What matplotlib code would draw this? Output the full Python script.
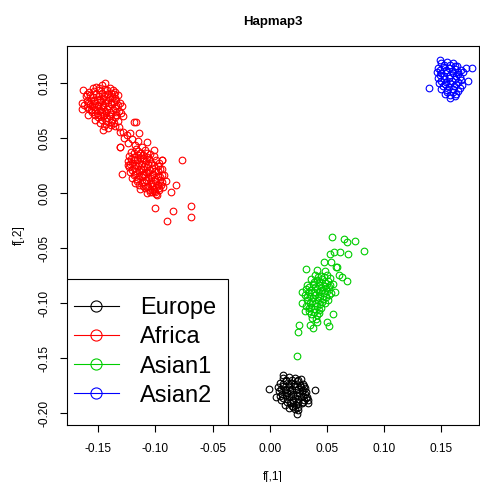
import numpy as np
import matplotlib
matplotlib.use("Agg")
import matplotlib.pyplot as plt
from matplotlib.lines import Line2D
from matplotlib.patches import Rectangle

plt.rcParams['font.family'] = ['Liberation Sans', 'DejaVu Sans']
plt.rcParams['axes.unicode_minus'] = False

# values (f[,1], f[,2])
europe = [
    (0.012, -0.168), (0.017, -0.167), (0.022, -0.168), (0.027, -0.169),
    (0.009, -0.172), (0.014, -0.171), (0.019, -0.172), (0.024, -0.171), (0.029, -0.173),
    (0.007, -0.176), (0.012, -0.175), (0.017, -0.176), (0.022, -0.175), (0.027, -0.176), (0.031, -0.177),
    (0.008, -0.180), (0.013, -0.179), (0.018, -0.180), (0.023, -0.179), (0.028, -0.180), (0.032, -0.181),
    (0.009, -0.184), (0.014, -0.183), (0.019, -0.184), (0.024, -0.183), (0.029, -0.184), (0.033, -0.185),
    (0.010, -0.188), (0.015, -0.187), (0.020, -0.188), (0.025, -0.187), (0.030, -0.188),
    (0.013, -0.192), (0.018, -0.191), (0.023, -0.192), (0.028, -0.191),
    (0.017, -0.195), (0.022, -0.196),
    (0.0145, -0.1695), (0.0195, -0.1695), (0.0245, -0.1700),
    (0.0115, -0.1735), (0.0165, -0.1735), (0.0215, -0.1730), (0.0265, -0.1740), (0.0300, -0.1750),
    (0.0095, -0.1780), (0.0145, -0.1775), (0.0195, -0.1780), (0.0245, -0.1775), (0.0295, -0.1785),
    (0.0105, -0.1820), (0.0155, -0.1815), (0.0205, -0.1820), (0.0255, -0.1815), (0.0305, -0.1825),
    (0.0120, -0.1860), (0.0170, -0.1855), (0.0220, -0.1860), (0.0270, -0.1855), (0.0315, -0.1865),
    (0.0150, -0.1900), (0.0200, -0.1895), (0.0250, -0.1900), (0.0290, -0.1900),
    (0.0195, -0.1935), (0.0245, -0.1940),
    (-0.001, -0.178), (0.0114, -0.165), (0.040, -0.179), (0.0055, -0.185), (0.025, -0.197),
    (0.0338, -0.191), (0.020, -0.194), (0.0236, -0.2006), (0.0338, -0.188),
]

africa = [
    (-0.163, 0.094), (-0.164, 0.082), (-0.164, 0.077), (-0.144, 0.100), (-0.135, 0.092),
    (-0.129, 0.079), (-0.128, 0.070), (-0.146, 0.058), (-0.135, 0.061), (-0.131, 0.056),
    (-0.159, 0.071), (-0.153, 0.067), (-0.119, 0.065),
    (-0.152, 0.097), (-0.147, 0.098), (-0.140, 0.096), (-0.137, 0.094),
    (-0.158, 0.092), (-0.154, 0.093), (-0.149, 0.094), (-0.144, 0.095), (-0.139, 0.091), (-0.133, 0.089),
    (-0.161, 0.088), (-0.157, 0.089), (-0.152, 0.090), (-0.147, 0.091), (-0.142, 0.090), (-0.138, 0.087), (-0.134, 0.085),
    (-0.160, 0.084), (-0.156, 0.085), (-0.151, 0.086), (-0.146, 0.087), (-0.141, 0.085), (-0.136, 0.083), (-0.131, 0.082),
    (-0.162, 0.080), (-0.157, 0.081), (-0.153, 0.082), (-0.148, 0.083), (-0.144, 0.082), (-0.139, 0.081), (-0.134, 0.079),
    (-0.158, 0.077), (-0.154, 0.078), (-0.150, 0.079), (-0.146, 0.078), (-0.142, 0.077), (-0.137, 0.076), (-0.132, 0.075),
    (-0.155, 0.074), (-0.151, 0.073), (-0.147, 0.074), (-0.143, 0.073), (-0.139, 0.072), (-0.134, 0.071), (-0.130, 0.073),
    (-0.150, 0.069), (-0.146, 0.070), (-0.142, 0.068), (-0.138, 0.067), (-0.133, 0.066),
    (-0.148, 0.064), (-0.143, 0.063), (-0.139, 0.062), (-0.136, 0.064), (-0.141, 0.059),
    (-0.1545, 0.0955), (-0.1495, 0.0960), (-0.1425, 0.0935), (-0.1365, 0.0905),
    (-0.1595, 0.0900), (-0.1545, 0.0875), (-0.1495, 0.0885), (-0.1445, 0.0885), (-0.1395, 0.0875), (-0.1355, 0.0870),
    (-0.1585, 0.0825), (-0.1535, 0.0840), (-0.1485, 0.0850), (-0.1435, 0.0845), (-0.1385, 0.0830), (-0.1330, 0.0805),
    (-0.1600, 0.0785), (-0.1555, 0.0795), (-0.1505, 0.0805), (-0.1460, 0.0800), (-0.1410, 0.0790), (-0.1355, 0.0775),
    (-0.1565, 0.0755), (-0.1525, 0.0760), (-0.1480, 0.0760), (-0.1440, 0.0750), (-0.1395, 0.0740), (-0.1345, 0.0735),
    (-0.1530, 0.0710), (-0.1485, 0.0715), (-0.1445, 0.0715), (-0.1400, 0.0700), (-0.1355, 0.0690),
    (-0.1470, 0.0670), (-0.1430, 0.0655), (-0.1385, 0.0650), (-0.1450, 0.0610),
    (-0.132, 0.060), (-0.128, 0.056), (-0.125, 0.053), (-0.122, 0.055), (-0.127, 0.050),
    (-0.120, 0.049), (-0.117, 0.065), (-0.114, 0.0545), (-0.1075, 0.047), (-0.131, 0.042),
    (-0.124, 0.046), (-0.118, 0.044), (-0.112, 0.042), (-0.115, 0.048),
    (-0.121, 0.038), (-0.117, 0.040), (-0.113, 0.037), (-0.109, 0.039), (-0.105, 0.036),
    (-0.123, 0.034), (-0.119, 0.033), (-0.115, 0.035), (-0.111, 0.032), (-0.107, 0.033), (-0.101, 0.039),
    (-0.124, 0.029), (-0.120, 0.028), (-0.116, 0.030), (-0.112, 0.027), (-0.108, 0.029), (-0.104, 0.028), (-0.099, 0.030),
    (-0.123, 0.024), (-0.119, 0.023), (-0.115, 0.025), (-0.111, 0.022), (-0.107, 0.024), (-0.103, 0.023), (-0.098, 0.025), (-0.094, 0.030),
    (-0.122, 0.019), (-0.118, 0.018), (-0.114, 0.020), (-0.110, 0.017), (-0.106, 0.019), (-0.102, 0.018), (-0.098, 0.020), (-0.094, 0.022),
    (-0.120, 0.014), (-0.116, 0.013), (-0.112, 0.015), (-0.108, 0.012), (-0.104, 0.014), (-0.100, 0.013), (-0.096, 0.015), (-0.092, 0.017),
    (-0.118, 0.009), (-0.114, 0.008), (-0.110, 0.010), (-0.106, 0.007), (-0.102, 0.009), (-0.098, 0.008), (-0.094, 0.010),
    (-0.113, 0.004), (-0.109, 0.005), (-0.105, 0.003), (-0.101, 0.004), (-0.097, 0.005), (-0.093, 0.006),
    (-0.107, 0.000), (-0.103, 0.001), (-0.099, -0.001), (-0.0965, 0.003),
    (-0.119, 0.0365), (-0.115, 0.0385), (-0.111, 0.0350), (-0.107, 0.0365),
    (-0.1215, 0.0315), (-0.1175, 0.0305), (-0.1135, 0.0325), (-0.1095, 0.0305), (-0.1055, 0.0310), (-0.1015, 0.0335),
    (-0.1225, 0.0265), (-0.1180, 0.0255), (-0.1140, 0.0275), (-0.1100, 0.0250), (-0.1060, 0.0265), (-0.1015, 0.0255), (-0.0965, 0.0275),
    (-0.1205, 0.0215), (-0.1165, 0.0205), (-0.1125, 0.0225), (-0.1085, 0.0195), (-0.1045, 0.0215), (-0.1000, 0.0205), (-0.0960, 0.0225),
    (-0.1185, 0.0165), (-0.1145, 0.0155), (-0.1105, 0.0175), (-0.1065, 0.0145), (-0.1025, 0.0165), (-0.0980, 0.0155), (-0.0940, 0.0170),
    (-0.1160, 0.0115), (-0.1120, 0.0105), (-0.1080, 0.0125), (-0.1040, 0.0095), (-0.1000, 0.0110), (-0.0960, 0.0120),
    (-0.1110, 0.0065), (-0.1070, 0.0055), (-0.1030, 0.0065), (-0.0990, 0.0060), (-0.0950, 0.0075),
    (-0.1050, 0.0015), (-0.1010, 0.0025),
    (-0.0764, 0.030), (-0.1288, 0.018), (-0.1236, 0.026), (-0.0906, 0.011), (-0.0822, 0.0075),
    (-0.0863, 0.0015), (-0.1003, -0.0136), (-0.0843, -0.0158), (-0.0688, -0.0113), (-0.0688, -0.0218),
    (-0.090, -0.0252), (-0.1003, 0.0015), (-0.0988, -0.0015), (-0.1309, 0.0424), (-0.0944, 0.0303),
]

asian1 = [
    (0.0547, -0.0400), (0.0652, -0.0415), (0.0673, -0.0445), (0.0748, -0.0431), (0.0824, -0.0522),
    (0.0682, -0.0552), (0.0615, -0.0536), (0.0562, -0.0536), (0.0527, -0.0555), (0.0475, -0.0622),
    (0.0536, -0.0622), (0.0580, -0.0673), (0.0411, -0.0697), (0.0483, -0.0706), (0.0317, -0.0691),
    (0.0586, -0.0667), (0.0673, -0.0797), (0.0629, -0.0758), (0.0609, -0.0743), (0.0571, -0.0895),
    (0.0556, -0.1100), (0.0280, -0.0895), (0.0309, -0.1067), (0.0259, -0.1197), (0.0245, -0.1258),
    (0.0352, -0.1197), (0.0376, -0.1222), (0.0411, -0.1167), (0.0498, -0.1173), (0.0521, -0.1206),
    (0.0402, -0.1145), (0.0236, -0.1476),
    (0.040, -0.074), (0.045, -0.075), (0.050, -0.074), (0.053, -0.077),
    (0.036, -0.078), (0.041, -0.079), (0.046, -0.078), (0.051, -0.080), (0.055, -0.082),
    (0.033, -0.083), (0.038, -0.082), (0.043, -0.083), (0.048, -0.084), (0.052, -0.085),
    (0.032, -0.087), (0.036, -0.088), (0.041, -0.087), (0.046, -0.088), (0.050, -0.089), (0.054, -0.091),
    (0.031, -0.092), (0.035, -0.093), (0.040, -0.092), (0.044, -0.093), (0.049, -0.094),
    (0.033, -0.097), (0.037, -0.098), (0.042, -0.097), (0.046, -0.099), (0.051, -0.097),
    (0.032, -0.102), (0.036, -0.103), (0.041, -0.102), (0.045, -0.104),
    (0.034, -0.107), (0.039, -0.108), (0.043, -0.109), (0.037, -0.113), (0.028, -0.100),
    (0.0425, -0.0765), (0.0475, -0.0765),
    (0.0385, -0.0805), (0.0435, -0.0810), (0.0485, -0.0815), (0.0530, -0.0830),
    (0.0345, -0.0850), (0.0395, -0.0850), (0.0445, -0.0855), (0.0495, -0.0865),
    (0.0340, -0.0900), (0.0385, -0.0900), (0.0430, -0.0900), (0.0475, -0.0910), (0.0520, -0.0920),
    (0.0330, -0.0945), (0.0375, -0.0950), (0.0420, -0.0945), (0.0465, -0.0960),
    (0.0350, -0.0995), (0.0395, -0.1000), (0.0440, -0.1005), (0.0485, -0.1000),
    (0.0340, -0.1045), (0.0385, -0.1050), (0.0430, -0.1060),
    (0.0365, -0.1095), (0.0410, -0.1110),
]

asian2 = [
    (0.150, 0.118), (0.155, 0.119), (0.160, 0.118), (0.164, 0.116),
    (0.147, 0.114), (0.152, 0.115), (0.157, 0.114), (0.162, 0.113), (0.167, 0.112),
    (0.146, 0.110), (0.150, 0.109), (0.155, 0.110), (0.160, 0.109), (0.165, 0.108), (0.169, 0.110),
    (0.147, 0.105), (0.152, 0.104), (0.157, 0.105), (0.162, 0.104), (0.167, 0.103),
    (0.148, 0.100), (0.153, 0.099), (0.158, 0.100), (0.163, 0.099), (0.168, 0.098),
    (0.150, 0.095), (0.155, 0.094), (0.160, 0.095), (0.165, 0.093),
    (0.153, 0.090), (0.158, 0.089), (0.163, 0.090),
    (0.1525, 0.1165), (0.1575, 0.1165), (0.1620, 0.1155),
    (0.1485, 0.1120), (0.1545, 0.1125), (0.1595, 0.1115), (0.1645, 0.1105),
    (0.1485, 0.1075), (0.1525, 0.1070), (0.1575, 0.1075), (0.1625, 0.1065), (0.1665, 0.1060),
    (0.1495, 0.1025), (0.1545, 0.1015), (0.1595, 0.1025), (0.1645, 0.1010),
    (0.1515, 0.0975), (0.1565, 0.0970), (0.1610, 0.0975), (0.1660, 0.0955),
    (0.1550, 0.0925), (0.1600, 0.0920),
    (0.1395, 0.0955), (0.1489, 0.1212), (0.1766, 0.1142), (0.172, 0.114),
    (0.1736, 0.1024), (0.1576, 0.0864), (0.162, 0.088),
]

groups = ["Europe", "Africa", "Asian1", "Asian2"]
colors = ["black", "#FF0000", "#00CD00", "#0000FF"]
x_ticks = [-0.15, -0.10, -0.05, 0.00, 0.05, 0.10, 0.15]
y_ticks = [-0.20, -0.15, -0.10, -0.05, 0.00, 0.05, 0.10]

W, H = 481, 482
fig = plt.figure(figsize=(W / 100, H / 100), dpi=100)
left, right, top, bottom = 66.7, 479, 46, 425
ax = fig.add_axes([left / W, 1 - bottom / H, (right - left) / W, (bottom - top) / H])

for pts, col in zip([europe, africa, asian1, asian2], colors):
    pts = np.array(pts)
    ax.plot(pts[:, 0], pts[:, 1], 'o', ls='none', mfc='none', mec=col,
            ms=4.8, mew=0.8)

ax.set_xlim(-0.1775, 0.183)
ax.set_ylim(-0.2106, 0.1339)
ax.set_xticks(x_ticks)
ax.set_xticklabels(["%.2f" % v for v in x_ticks])
ax.set_yticks(y_ticks)
ax.set_yticklabels(["%.2f" % v for v in y_ticks], rotation=90, va='center')
ax.tick_params(direction='out', length=5.2, width=0.8, labelsize=8.6)
ax.tick_params(axis='x', pad=7.5)
ax.tick_params(axis='y', pad=6.5)
for sp in ax.spines.values():
    sp.set_linewidth(0.8)

ax.set_xlabel("f[,1]", fontsize=8.6, labelpad=12)
ax.set_ylabel("f[,2]", fontsize=8.6, labelpad=10)
ax.set_title("Hapmap3", fontsize=9.5, fontweight='bold', pad=15)

# legend box in the lower left corner, like R's legend()
bw = (228 - left) / (right - left)
bh = (bottom - 279) / (bottom - top)
ax.add_patch(Rectangle((0, 0), bw, bh, transform=ax.transAxes, fc='white',
                       ec='black', lw=0.8, zorder=3))
handles = [Line2D([], [], color=c, lw=0.8, marker='o', mfc='none', mec=c,
                  ms=8, mew=0.8) for c in colors]
leg = ax.legend(handles, groups, loc='center left', bbox_to_anchor=(0, 0, bw, bh),
                frameon=False, fontsize=17, borderpad=0.3, handlelength=1.9,
                handletextpad=0.9, labelspacing=0.3, numpoints=1,
                borderaxespad=0)
leg.set_zorder(4)

fig.savefig("out.png", dpi=100)
